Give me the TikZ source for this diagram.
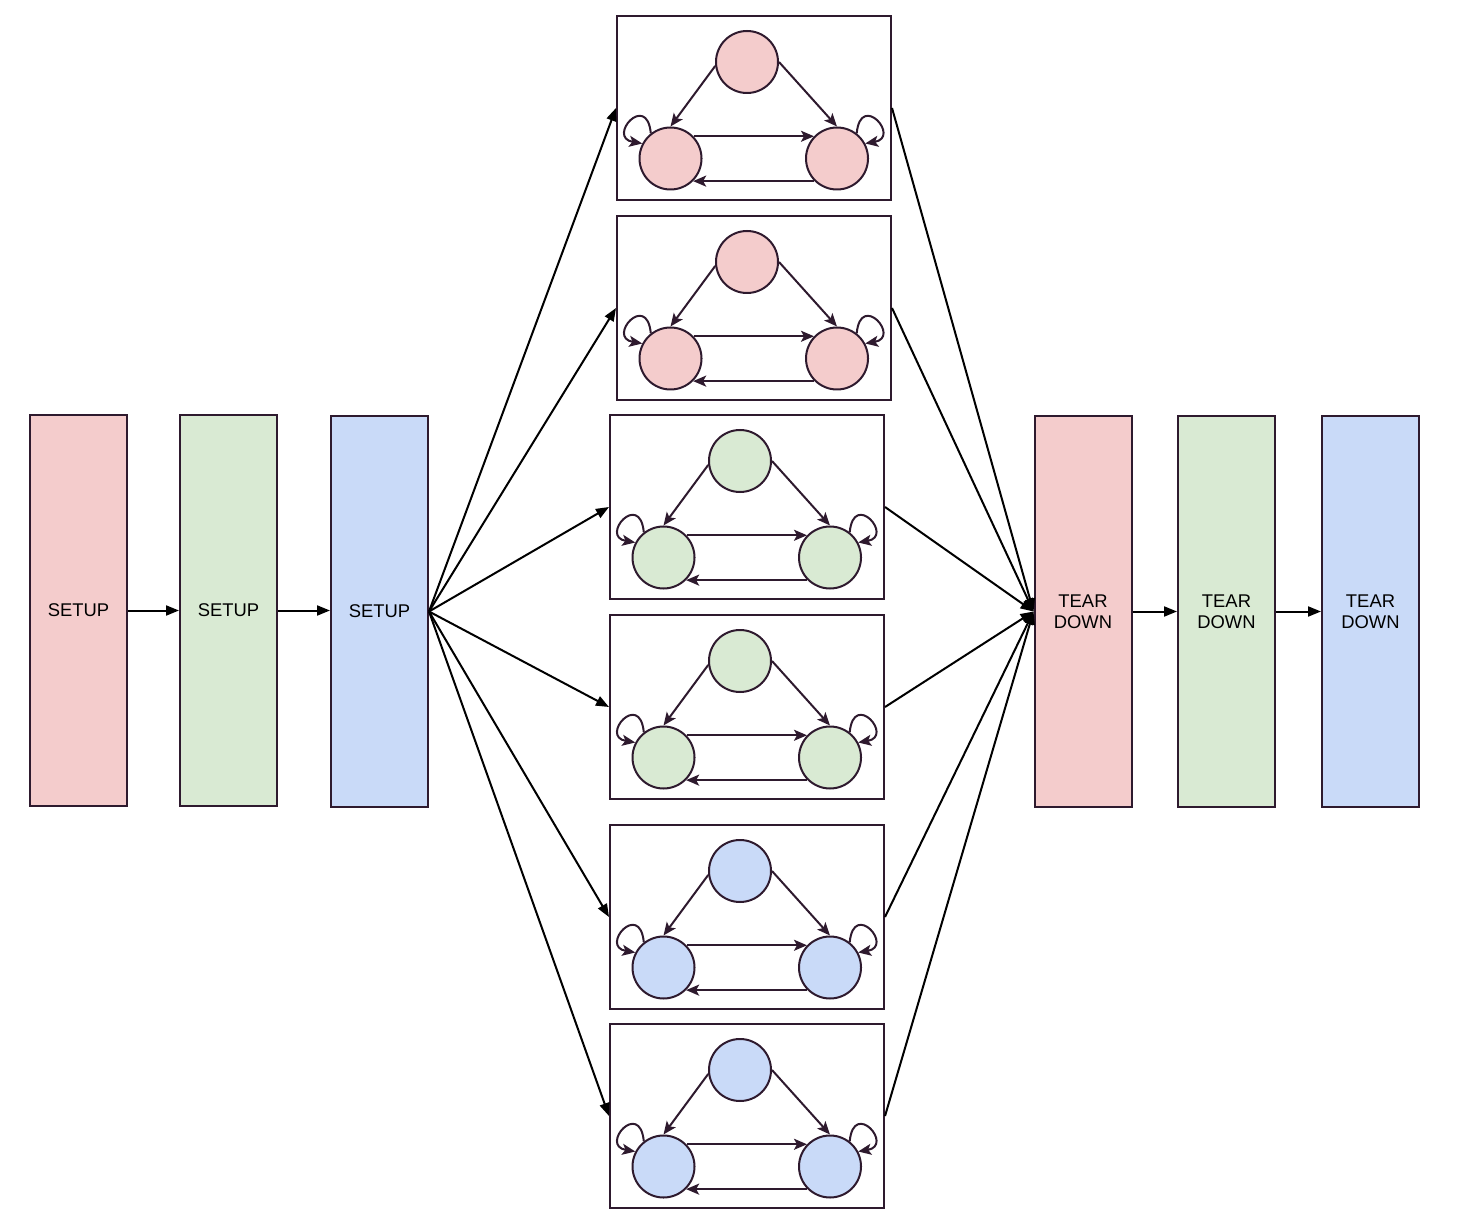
\documentclass[tikz,border=0pt]{standalone}
\usepackage{fontspec}
\setmainfont{Liberation Sans}
\usetikzlibrary{arrows.meta}
\definecolor{pinkF}{HTML}{F4CCCC}
\definecolor{greenF}{HTML}{D9EAD3}
\definecolor{blueF}{HTML}{C9DAF8}
\definecolor{edgeC}{HTML}{2E1A2E}
\tikzset{
  stage/.style={draw=edgeC, line width=1pt, minimum width=48.5pt, minimum height=195.5pt,
    inner sep=0pt, align=center, font=\fontsize{9.2pt}{10.5pt}\selectfont},
  frame/.style={draw=edgeC, line width=1pt, minimum width=137pt, minimum height=92pt, inner sep=0pt},
  st/.style={circle, draw=edgeC, line width=1pt, minimum size=31pt, inner sep=0pt},
  inarr/.style={draw=edgeC, line width=1pt, -{Stealth[length=6.5pt,width=5.5pt,inset=1.5pt]}},
  mainarr/.style={draw=black, line width=1pt, -{Triangle[length=6.5pt,width=5pt]}},
  fsm/.pic={
    \node[frame] (-frame) at (137,92) {};
    \node[st, fill=#1] (-t) at (130,46) {};
    \node[st, fill=#1] (-l) at (53.5,142.5) {};
    \node[st, fill=#1] (-r) at (220,142.5) {};
    \draw[inarr] (-t.187) -- (-l.north);
    \draw[inarr] (-t.east) -- (-r.north);
    \draw[inarr] (-l.44) -- (-r.136);
    \draw[inarr] (-r.225) -- (-l.-45);
    \draw[inarr] (-l.128) .. controls +(-4,-42) and +(-36,-6) .. (-l.152);
    \draw[inarr] (-r.52) .. controls +(4,-42) and +(36,-6) .. (-r.28);
  }
}
\begin{document}
\begin{tikzpicture}[x=0.5pt,y=-0.5pt]
\useasboundingbox (0,0) rectangle (1460,1224);
% setup stages
\node[stage, fill=pinkF]  (s1) at (78.5,610.5) {SETUP};
\node[stage, fill=greenF] (s2) at (228.5,610.5) {SETUP};
\node[stage, fill=blueF]  (s3) at (379.5,611.5) {SETUP};
% tear down stages
\node[stage, fill=pinkF]  (d1) at (1083,611.5) {TEAR\\DOWN};
\node[stage, fill=greenF] (d2) at (1226.5,611.5) {TEAR\\DOWN};
\node[stage, fill=blueF]  (d3) at (1370.5,611.5) {TEAR\\DOWN};
% state machines
\pic (g1) at (617,16) {fsm=pinkF};
\pic (g2) at (617,216) {fsm=pinkF};
\pic (g3) at (610,415) {fsm=greenF};
\pic (g4) at (610,615) {fsm=greenF};
\pic (g5) at (610,825) {fsm=blueF};
\pic (g6) at (610,1024) {fsm=blueF};
% main connectors
\draw[mainarr] (s1.east) -- (s1.east -| s2.west);
\draw[mainarr] (s2.east) -- (s2.east -| s3.west);
\draw[mainarr] (d1) -- (d2);
\draw[mainarr] (d2) -- (d3);
\foreach \g in {g1,g2,g3,g4,g5,g6}{
  \draw[mainarr] (s3.east) -- (\g-frame.west);
  \draw[mainarr] (\g-frame.east) -- (d1.west);
}
\end{tikzpicture}
\end{document}
